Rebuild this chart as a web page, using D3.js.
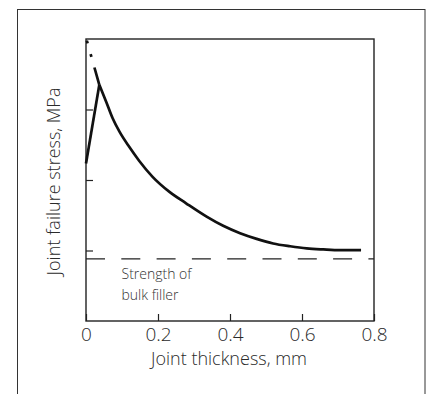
<!DOCTYPE html>
<html>
<head>
<meta charset="utf-8">
<script src="https://cdn.jsdelivr.net/npm/d3@7"></script>
<style>
  body { margin: 0; background: #fff; }
  text { font-family: "Open Sans", "Noto Sans", sans-serif; font-weight: 300; }
</style>
</head>
<body>
<div id="chart"></div>
<script>
// joint thickness (mm) vs failure stress (MPa, y axis carries no numbers)
const thickness = [0.037, 0.056, 0.074, 0.093, 0.120, 0.148, 0.185, 0.231, 0.278, 0.335, 0.381, 0.428, 0.474, 0.520, 0.567, 0.613, 0.659, 0.706, 0.764];
const stress    = [6.70, 6.22, 5.75, 5.37, 4.94, 4.54, 4.09, 3.67, 3.34, 2.96, 2.70, 2.49, 2.33, 2.20, 2.12, 2.06, 2.03, 2.01, 2.01];

// rising part at very thin joints
const riseX = [0, 0.037];
const riseY = [4.47, 6.70];

// extrapolated (dashed) part toward zero thickness
const extX = [0.037, 0.001];
const extY = [6.70, 8.0];

const bulkStrength = 1.76;
const xTicks = [0, 0.2, 0.4, 0.6, 0.8];
const yTicks = [2, 4, 6];

const width = 431;
const height = 394;
const plotLeft = 86, plotRight = 374, plotTop = 39, plotBottom = 321;

const svg = d3.select('#chart')
  .append('svg')
  .attr('width', width)
  .attr('height', height);

// outer frame (bottom edge runs off the picture)
svg.append('rect')
  .attr('x', 17.5)
  .attr('y', 9.5)
  .attr('width', 407.5)
  .attr('height', 400)
  .attr('fill', 'none')
  .attr('stroke', '#333')
  .attr('stroke-width', 1);

const x = d3.scaleLinear().domain([0, 0.8]).range([plotLeft, plotRight]);
const y = d3.scaleLinear().domain([0, 8]).range([plotBottom, plotTop]);

const xAxis = d3.axisBottom(x)
  .tickValues(xTicks)
  .tickSize(-7)
  .tickPadding(7)
  .tickFormat(d => d === 0 ? '0' : d3.format('.1f')(d));

const yAxis = d3.axisLeft(y)
  .tickValues(yTicks)
  .tickSize(-7)
  .tickFormat('');

const gx = svg.append('g')
  .attr('transform', `translate(0, ${plotBottom})`)
  .call(xAxis);
gx.select('.domain').remove();
gx.selectAll('line').attr('stroke', '#222').attr('stroke-width', 1.2);
gx.selectAll('text')
  .attr('font-size', 19)
  .attr('fill', '#2a2a2a')
  .attr('font-family', '"Open Sans", sans-serif');

const gy = svg.append('g')
  .attr('transform', `translate(${plotLeft}, 0)`)
  .call(yAxis);
gy.select('.domain').remove();
gy.selectAll('line').attr('stroke', '#222').attr('stroke-width', 1.2);

// plot box
svg.append('rect')
  .attr('x', plotLeft)
  .attr('y', plotTop)
  .attr('width', plotRight - plotLeft)
  .attr('height', plotBottom - plotTop)
  .attr('fill', 'none')
  .attr('stroke', '#222')
  .attr('stroke-width', 1.4);

// bulk filler strength
svg.append('line')
  .attr('x1', x(0))
  .attr('x2', x(0.8))
  .attr('y1', y(bulkStrength))
  .attr('y2', y(bulkStrength))
  .attr('stroke', '#222')
  .attr('stroke-width', 1.3)
  .attr('stroke-dasharray', '19,16.3');

const line = d3.line()
  .x(d => x(d[0]))
  .y(d => y(d[1]));

svg.append('path')
  .datum(riseX.map((d, i) => [d, riseY[i]]))
  .attr('d', line)
  .attr('fill', 'none')
  .attr('stroke', '#111')
  .attr('stroke-width', 2.7);

svg.append('path')
  .datum(thickness.map((d, i) => [d, stress[i]]))
  .attr('d', d3.line().x(d => x(d[0])).y(d => y(d[1])).curve(d3.curveMonotoneX))
  .attr('fill', 'none')
  .attr('stroke', '#111')
  .attr('stroke-width', 2.7)
  .attr('stroke-linejoin', 'round');

svg.append('path')
  .datum(extX.map((d, i) => [d, extY[i]]))
  .attr('d', line)
  .attr('fill', 'none')
  .attr('stroke', '#111')
  .attr('stroke-width', 2.7)
  .attr('stroke-dasharray', '18,11,3,11,3');

// annotation
const note = svg.append('text')
  .attr('x', 121.5)
  .attr('y', 278.5)
  .attr('font-size', 14)
  .attr('fill', '#333');
note.append('tspan').attr('x', 121.5).text('Strength of');
note.append('tspan').attr('x', 121.5).attr('dy', 21).text('bulk filler');

// axis titles
svg.append('text')
  .attr('x', 229)
  .attr('y', 365)
  .attr('text-anchor', 'middle')
  .attr('font-size', 18)
  .attr('fill', '#2a2a2a')
  .text('Joint thickness, mm');

svg.append('text')
  .attr('transform', 'translate(59.5, 181.5) rotate(-90)')
  .attr('text-anchor', 'middle')
  .attr('font-size', 18)
  .attr('fill', '#2a2a2a')
  .text('Joint failure stress, MPa');
</script>
</body>
</html>
